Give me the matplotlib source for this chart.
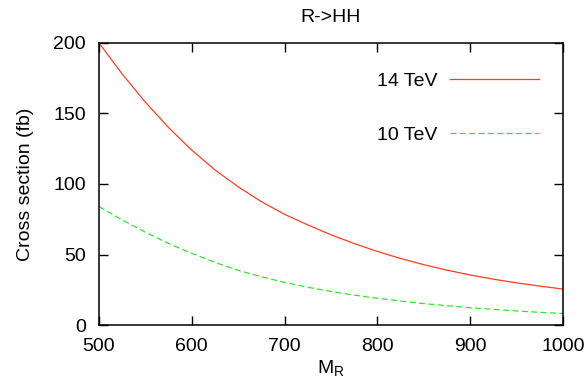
import matplotlib
matplotlib.use("Agg")
import matplotlib.pyplot as plt

plt.rcParams['font.family'] = ['Liberation Sans', 'DejaVu Sans']
plt.rcParams['mathtext.default'] = 'regular'

# Resonance mass (GeV) and R->HH cross sections (fb)
mass = [500, 525, 550, 575, 600, 625, 650, 675, 700, 725, 750,
        775, 800, 825, 850, 875, 900, 925, 950, 975, 1000]
xsec_14tev = [200, 178, 158, 140, 124, 110, 98, 87.5, 78.5, 71, 64,
              57.8, 52.2, 47.2, 42.8, 38.9, 35.5, 32.5, 29.9, 27.6, 25.5]
xsec_10tev = [84, 74.5, 65.8, 57.8, 50.8, 44.4, 38.8, 34.2, 30.2, 26.8, 23.8,
              21.2, 19, 17, 15.2, 13.7, 12.3, 11.1, 10, 9, 8.2]

x_ticks = [500, 600, 700, 800, 900, 1000]
y_ticks = [0, 50, 100, 150, 200]

FS = 14

fig = plt.figure(figsize=(5.87, 3.89), dpi=100)
ax = fig.add_axes([0.1687, 0.1645, 0.7903, 0.725])

ax.plot(mass, xsec_14tev, color='#ff3c1e', lw=0.9, label='14 TeV')
ax.plot(mass, xsec_10tev, color='#2ee62e', lw=0.9, dashes=(4.8, 2.7), label='10 TeV')

ax.set_xlim(500, 1000)
ax.set_ylim(0, 200)
ax.set_xticks(x_ticks)
ax.set_yticks(y_ticks)
ax.tick_params(direction='in', length=6.5, width=1.0, top=True, right=True,
               labelsize=FS)
ax.tick_params(axis='x', pad=9.5)
ax.tick_params(axis='y', pad=9.5)
for s in ax.spines.values():
    s.set_linewidth(1.1)

ax.set_title('R->HH', fontsize=FS, pad=15.3)
ax.set_xlabel('$M_R$', fontsize=FS, labelpad=2)
ax.set_ylabel('Cross section (fb)', fontsize=FS, labelpad=14)

ax.legend(loc='upper right', bbox_to_anchor=(0.949, 0.897), frameon=False,
          markerfirst=False, handlelength=4.6, handletextpad=0.65,
          labelspacing=1.9, borderpad=0, borderaxespad=0, fontsize=FS)

fig.savefig('out.png', dpi=100)
